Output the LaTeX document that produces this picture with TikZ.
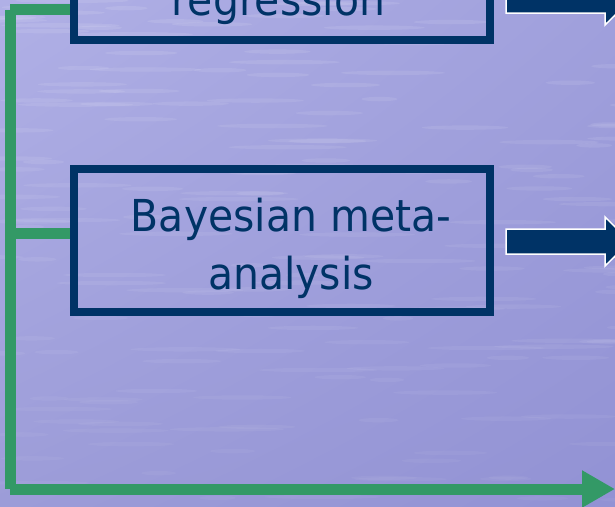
\documentclass[tikz,border=0pt]{standalone}
\usepackage{fontspec}
\setmainfont{DejaVu Sans}[FakeStretch=0.93]
\usetikzlibrary{arrows.meta,shadings}
\definecolor{navy}{RGB}{0,51,102}
\definecolor{leaf}{RGB}{51,153,102}
\definecolor{skyUL}{RGB}{176,176,230}
\definecolor{skyUR}{RGB}{160,160,220}
\definecolor{skyLL}{RGB}{156,156,216}
\definecolor{skyLR}{RGB}{146,146,212}
\begin{document}
\begin{tikzpicture}[x=1pt,y=-1pt,
  box/.style={draw=navy, line width=8pt, minimum width=416pt,
    minimum height=143pt, inner sep=0pt},
  caption/.style={text=navy, font=\fontsize{44}{58}\selectfont,
    align=center, inner sep=0pt},
  blockarrow/.style={fill=navy, draw=white, line width=1.5pt,
    line join=miter},
  trunk/.style={draw=leaf, line width=11pt}]
\useasboundingbox (0,0) rectangle (615,506);
\clip (0,0) rectangle (615,506);

% water-like backdrop
\shade[upper left=skyUL, upper right=skyUR, lower left=skyLL,
  lower right=skyLR] (0,0) rectangle (615,506);
\pgfmathsetseed{42}
\foreach \i in {1,...,170}{
  \pgfmathsetmacro\sx{rnd*660-20}
  \pgfmathsetmacro\sy{rnd*506}
  \pgfmathsetmacro\sw{15+rnd*45}
  \pgfmathsetmacro\so{0.04+0.06*(1-\sy/506)}
  \fill[white, opacity=\so] (\sx,\sy) ellipse [x radius=\sw, y radius=2.2];
}

% boxes and their captions
\node[box] (b1) at (282,-31.5) {};
\node[box] (b2) at (282,240.5) {};
\node[caption, anchor=base] (t1) at (278.5,15.5) {regression};
\node[caption] (t2) at (291,248.5) {Bayesian meta-\\analysis};

% block arrows leaving the boxes
\coordinate (a1) at (506,0.5);
\coordinate (a2) at (506,241.5);
\foreach \a in {a1,a2}{
  \draw[blockarrow] (\a) ++(0,-12.5) -- ++(99,0) -- ++(0,-12)
    -- ++(25,24.5) -- ++(-25,24.5) -- ++(0,-12) -- ++(-99,0) -- cycle;
}

% green trunk with its branches
\coordinate (top) at (10,9);
\coordinate (mid) at (10,233);
\coordinate (corner) at (10,489);
\coordinate (end) at (615,489);
\draw[trunk] (top) -- (b1.west |- top);
\draw[trunk] (10,10) -- (corner);
\draw[trunk] (mid) -- (b2.west |- mid);
\draw[trunk, -{Triangle[length=33pt,width=35pt]}] (corner) -- (end);
\end{tikzpicture}
\end{document}
